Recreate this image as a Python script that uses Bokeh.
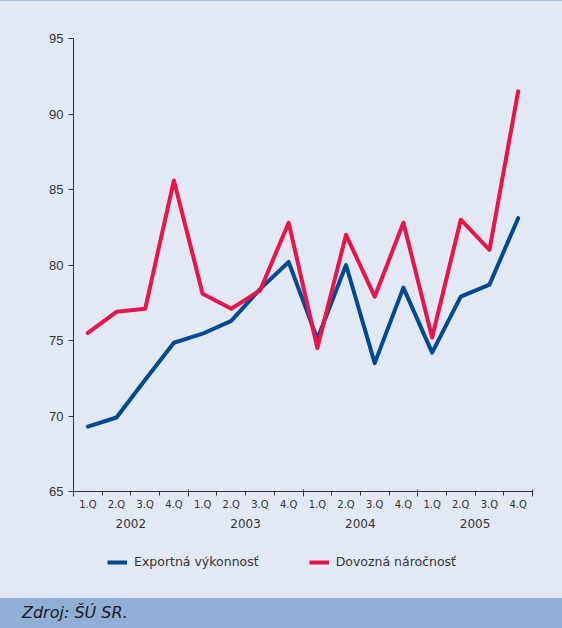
from bokeh.plotting import figure
from bokeh.models import (Range1d, FixedTicker, LinearAxis, Legend, LegendItem, Div, ColumnDataSource)
from bokeh.layouts import column
from bokeh.embed import file_html
from bokeh.resources import INLINE

years = ["2002", "2003", "2004", "2005"]
quarters = ["1.Q", "2.Q", "3.Q", "4.Q"]
export_perf = [69.3, 69.9, 72.4, 74.85, 75.45, 76.3, 78.4, 80.2,
               75.1, 80.0, 73.5, 78.5, 74.2, 77.9, 78.7, 83.1]
import_int = [75.5, 76.9, 77.1, 85.6, 78.1, 77.1, 78.3, 82.8,
              74.5, 82.0, 77.9, 82.8, 75.2, 83.0, 81.0, 91.5]
series_names = ["Exportná výkonnosť", "Dovozná náročnosť"]
y_ticks = [65, 70, 75, 80, 85, 90, 95]

n = len(years) * len(quarters)
xs = [i + 0.5 for i in range(n)]
src = ColumnDataSource(dict(x=xs, exp=export_perf, imp=import_int))

BG = "#E2E9F4"
BLUE = "#004A92"
RED = "#E8144B"
AX = "#333333"
FONT = "DejaVu Sans"

p = figure(width=562, height=539, output_backend="svg", toolbar_location=None,
           x_range=Range1d(0, n), y_range=Range1d(65, 95),
           background_fill_color=BG, border_fill_color=None,
           min_border_left=73, min_border_right=30, min_border_top=37, min_border_bottom=49,
           outline_line_color=None, margin=0, styles={"background-color": BG})
p.grid.visible = False

# y axis
p.yaxis.ticker = FixedTicker(ticks=y_ticks)
p.yaxis.minor_tick_line_color = None
p.yaxis.major_tick_out = 5
p.yaxis.major_tick_in = 0
p.yaxis.major_label_standoff = 5
p.yaxis.axis_line_color = AX
p.yaxis.major_tick_line_color = AX
p.yaxis.major_label_text_font = "Liberation Sans"
p.yaxis.major_label_text_font_size = "13px"
p.yaxis.major_label_text_color = AX

# x axis: boundary ticks
xa = p.xaxis[0]
bt = [0, 4, 8, 12, 16]
xa.ticker = FixedTicker(ticks=bt, minor_ticks=list(range(n + 1)))
xa.major_label_overrides = {t: "" for t in bt}
xa.major_tick_out = 5
xa.major_tick_in = 2
xa.minor_tick_out = 4
xa.minor_tick_in = 0
xa.axis_line_color = AX
xa.major_tick_line_color = AX
xa.minor_tick_line_color = AX
xa.major_label_text_font_size = "1px"
xa.major_label_standoff = 0

# quarter labels
qa = LinearAxis(ticker=FixedTicker(ticks=xs),
                major_label_overrides={x: quarters[i % 4] for i, x in enumerate(xs)},
                axis_line_color=None, major_tick_line_color=None, minor_tick_line_color=None,
                major_label_text_font=FONT, major_label_text_font_size="10px",
                major_label_text_color=AX, major_label_standoff=-4)
p.add_layout(qa, "below")

# year labels
ycent = [4 * i + 2 for i in range(len(years))]
ya = LinearAxis(ticker=FixedTicker(ticks=ycent),
                major_label_overrides={c: years[i] for i, c in enumerate(ycent)},
                axis_line_color=None, major_tick_line_color=None, minor_tick_line_color=None,
                major_label_text_font=FONT, major_label_text_font_size="12px",
                major_label_text_color=AX, major_label_standoff=0)
p.add_layout(ya, "below")

p.line("x", "exp", source=src, line_color=BLUE, line_width=4, line_join="round", line_cap="round")
p.line("x", "imp", source=src, line_color=RED, line_width=4, line_join="round", line_cap="round")

# legend strip
pl = figure(width=562, height=58, output_backend="svg", toolbar_location=None,
            x_range=Range1d(0, 1), y_range=Range1d(0, 1),
            background_fill_color=BG, border_fill_color=None, outline_line_color=None,
            min_border=0, margin=0, styles={"background-color": BG})
pl.axis.visible = False
pl.grid.visible = False
l1 = pl.line([-10, -9], [-10, -10], line_color=BLUE, line_width=4)
l2 = pl.line([-10, -9], [-10, -10], line_color=RED, line_width=4)
leg = Legend(items=[LegendItem(label=series_names[0], renderers=[l1]),
                    LegendItem(label=series_names[1], renderers=[l2])],
             orientation="horizontal", location=(34, 29), spacing=50,
             glyph_width=20, glyph_height=12, label_standoff=7, padding=0, margin=0,
             background_fill_alpha=0, border_line_color=None,
             label_text_font=FONT, label_text_font_size="12.5px", label_text_color=AX)
pl.add_layout(leg, "center")

top = Div(width=562, height=1, margin=0, styles={"background-color": "#A9C2E2"})
bottom = Div(text="Zdroj: ŠÚ SR.", width=562, height=30, margin=0,
             styles={"background-color": "#8FAFD6", "font-style": "italic",
                     "font-family": "DejaVu Sans", "font-size": "16px", "color": "#1a1a1a",
                     "padding-left": "22px", "line-height": "30px", "box-sizing": "border-box"})

layout = column(top, p, pl, bottom, spacing=0, margin=0, styles={"background-color": BG})
open("out.html", "w").write(file_html(layout, INLINE))
